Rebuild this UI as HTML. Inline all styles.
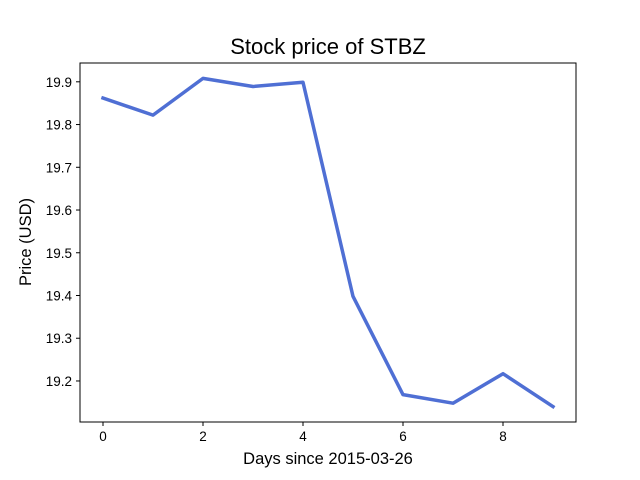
<!DOCTYPE html>
<html><head><meta charset="utf-8"><style>
body{margin:0;background:#fff;}
svg{display:block;font-family:"Liberation Sans","DejaVu Sans",sans-serif;}
</style></head><body>
<svg id="chart" width="640" height="480">
<rect x="0" y="0" width="640" height="480" fill="#fff"/>
<text x="328" y="54" text-anchor="middle" font-size="22">Stock price of STBZ</text>
<g id="xticks"></g>
<g id="yticks"></g>
<path id="line" fill="none" stroke="#4f6fd4" stroke-width="3.5" stroke-linejoin="round" stroke-linecap="square"/>
<rect x="80" y="63" width="496" height="359" fill="none" stroke="#000" stroke-width="1"/>
<text x="328" y="464" text-anchor="middle" font-size="16.5">Days since 2015-03-26</text>
<text x="0" y="0" transform="translate(31,242) rotate(-90)" text-anchor="middle" font-size="16.5">Price (USD)</text>
</svg>
<script>
const days=[0,1,2,3,4,5,6,7,8,9];
const prices=[19.862,19.822,19.908,19.889,19.899,19.398,19.168,19.148,19.217,19.140];
const xTickValues=[0,2,4,6,8];
const yTickValues=[19.2,19.3,19.4,19.5,19.6,19.7,19.8,19.9];
const X0=80,X1=576,Y0=422,Y1=63;
const xMin=-0.46,xMax=9.46,yMin=19.104,yMax=19.944;
const sx=v=>X0+(v-xMin)/(xMax-xMin)*(X1-X0);
const sy=v=>Y0-(v-yMin)/(yMax-yMin)*(Y0-Y1);
const NS="http://www.w3.org/2000/svg";
const xg=document.getElementById('xticks'),yg=document.getElementById('yticks');
xTickValues.forEach(v=>{
  const l=document.createElementNS(NS,'line');
  l.setAttribute('x1',sx(v));l.setAttribute('x2',sx(v));l.setAttribute('y1',Y0);l.setAttribute('y2',Y0+4);l.setAttribute('stroke','#000');
  
  
  xg.appendChild(l);
  const t=document.createElementNS(NS,'text');
  t.setAttribute('x',sx(v));t.setAttribute('y',Y0+19);t.setAttribute('text-anchor','middle');t.setAttribute('font-size','13.5');
  t.textContent=v;
  
  
  xg.appendChild(t);
});
yTickValues.forEach(v=>{
  const l=document.createElementNS(NS,'line');
  l.setAttribute('x1',X0-4);l.setAttribute('x2',X0);l.setAttribute('y1',sy(v));l.setAttribute('y2',sy(v));l.setAttribute('stroke','#000');
  
  
  yg.appendChild(l);
  const t=document.createElementNS(NS,'text');
  t.setAttribute('x',X0-8);t.setAttribute('y',sy(v)+5);t.setAttribute('text-anchor','end');t.setAttribute('font-size','13.5');
  t.textContent=v.toFixed(1);
  
  
  yg.appendChild(t);
});
document.getElementById('line').setAttribute('d',days.map((d,i)=>(i?'L':'M')+sx(d)+' '+sy(prices[i])).join(' '));
</script>
</body></html>
